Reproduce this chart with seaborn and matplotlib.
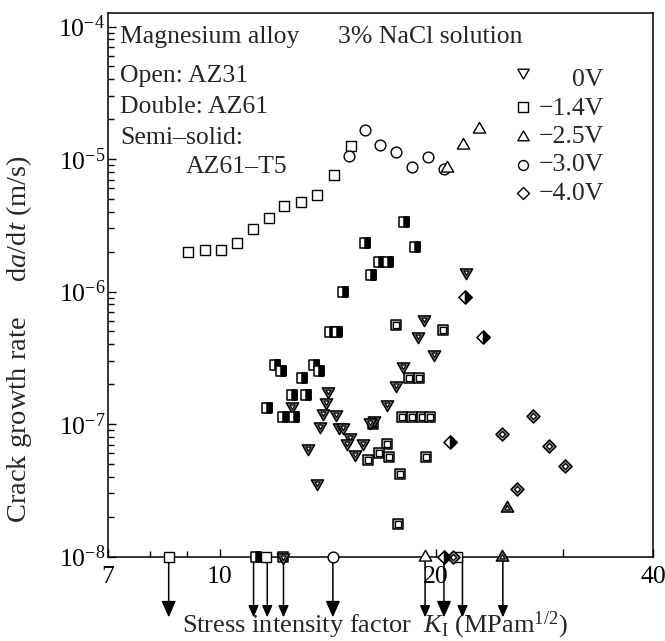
import matplotlib
matplotlib.use("Agg")
import matplotlib.pyplot as plt
from matplotlib.markers import MarkerStyle
from matplotlib.path import Path
from matplotlib.ticker import LogLocator, NullFormatter
import seaborn as sns

# ---- data: K_I (MPa m^1/2) vs da/dt (m/s); 1e-8 = below detection (arrow) ----
# AZ31, open markers
az31_sq_k = [8.5, 9.05, 9.55, 10.05, 10.57, 11.13, 11.71, 12.31, 12.98, 13.66, 14.43, 15.25, 11.6, 21.4]
az31_sq_v = [1e-8, 2.0e-6, 2.06e-6, 2.04e-6, 2.33e-6, 2.96e-6, 3.6e-6, 4.44e-6, 4.71e-6, 5.32e-6,
             7.64e-6, 1.26e-5, 1e-8, 1e-8]
az31_ci_k = [15.12, 15.91, 16.72, 17.6, 18.53, 19.51, 20.51, 14.37]
az31_ci_v = [1.05e-5, 1.67e-5, 1.28e-5, 1.13e-5, 8.65e-6, 1.03e-5, 8.45e-6, 1e-8]
az31_tu_k = [20.7, 21.77, 22.91, 19.3]
az31_tu_v = [8.5e-6, 1.27e-5, 1.68e-5, 1e-8]

# AZ61, double markers
az61_td_k = [22.02, 19.26, 18.85, 19.85, 17.97, 17.59, 17.09, 16.41, 16.16, 14.16, 14.07, 13.92,
             14.53, 12.61, 13.8, 14.64, 14.84, 15.19, 15.04, 15.83, 15.44, 13.26, 13.66, 12.27]
az61_td_v = [1.41e-6, 6.2e-7, 4.61e-7, 3.37e-7, 2.74e-7, 1.97e-7, 1.42e-7, 1.08e-7, 1.04e-7, 1.77e-7,
             1.47e-7, 1.22e-7, 1.2e-7, 1.37e-7, 9.66e-8, 9.55e-8, 9.55e-8, 7.94e-8, 7.22e-8, 7.22e-8,
             5.94e-8, 6.56e-8, 3.6e-8, 1e-8]
az61_sq_k = [12.27, 17.59, 20.42, 18.32, 18.91, 17.93, 18.52, 19.12, 19.63, 16.32, 17.09, 16.64,
             16.06, 17.18, 19.38, 17.8, 17.7]
az61_sq_v = [1e-8, 5.58e-7, 5.12e-7, 2.24e-7, 2.24e-7, 1.12e-7, 1.12e-7, 1.12e-7, 1.12e-7, 9.96e-8,
             7.03e-8, 6.01e-8, 5.35e-8, 5.61e-8, 5.61e-8, 4.2e-8, 1.76e-8]
az61_tu_k = [25.04, 24.7]
az61_tu_v = [2.34e-8, 1e-8]
az61_di_k = [27.27, 24.65, 28.68, 30.18, 25.91, 21.13]
az61_di_v = [1.15e-7, 8.36e-8, 6.82e-8, 4.85e-8, 3.23e-8, 1e-8]

# AZ61-T5, semi-solid markers
t5_sq_k = [18.02, 18.67, 15.93, 16.64, 17.12, 16.25, 14.85, 14.25, 14.55, 11.95, 12.17, 13.02,
           13.51, 13.73, 12.61, 13.2, 11.64, 12.27, 12.68, 11.25]
t5_sq_v = [3.33e-6, 2.18e-6, 2.33e-6, 1.66e-6, 1.66e-6, 1.33e-6, 9.96e-7, 4.98e-7, 4.98e-7, 2.79e-7,
           2.52e-7, 2.24e-7, 2.79e-7, 2.52e-7, 1.67e-7, 1.67e-7, 1.31e-7, 1.12e-7, 1.12e-7, 1e-8]
t5_di_k = [21.96, 23.23, 20.88, 20.5]
t5_di_v = [9.14e-7, 4.56e-7, 7.35e-8, 1e-8]

arrow_k = [8.5, 11.15, 11.65, 12.27, 14.37, 19.3, 20.5, 21.75, 24.75]
big_arrow_k = [8.5, 14.37, 20.5]

legend_labels = ["0V", "\u22121.4V", "\u22122.5V", "\u22123.0V", "\u22124.0V"]
x_ticks = [7, 10, 20, 30, 40]
x_ticklabels = ["7", "10", "20", "", "40"]
y_ticks = [1e-8, 1e-7, 1e-6, 1e-5, 1e-4]
y_ticklabels = [r"$10^{-8}$", r"$10^{-7}$", r"$10^{-6}$", r"$10^{-5}$", r"$10^{-4}$"]

# ---- style ----
sns.set_style("ticks", {"xtick.direction": "in", "ytick.direction": "in"})
plt.rcParams["font.family"] = ["Liberation Serif", "DejaVu Serif"]
plt.rcParams["mathtext.fontset"] = "custom"
plt.rcParams["mathtext.rm"] = "Liberation Serif"
plt.rcParams["mathtext.it"] = "Liberation Serif:italic"
FS = 18.5

TRI_UP = Path([(-1, -0.577), (1, -0.577), (0, 1.155), (0, 0)], closed=True)
TRI_DN = Path([(-1, 0.577), (1, 0.577), (0, -1.155), (0, 0)], closed=True)
SIZES = {"s": 62, "o": 60, "D": 44, "tri": 105}


def size_of(marker):
    return SIZES["tri"] if isinstance(marker, Path) else SIZES[marker]


def open_marks(ax, k, v, marker):
    sns.scatterplot(x=k, y=v, marker=marker, s=size_of(marker), color="white",
                    edgecolor="black", linewidth=1.0, clip_on=False, zorder=5,
                    legend=False, ax=ax)


def double_marks(ax, k, v, marker, inner, fill):
    s = size_of(marker)
    for kk, vv in zip(k, v):
        sns.scatterplot(x=[kk], y=[vv], marker=marker, s=s, color=fill,
                        edgecolor="black", linewidth=1.1, clip_on=False, zorder=5,
                        legend=False, ax=ax)
        sns.scatterplot(x=[kk], y=[vv], marker=marker, s=s * inner ** 2, color="white",
                        edgecolor="black", linewidth=0.9, clip_on=False, zorder=5,
                        legend=False, ax=ax)


def semi_marks(ax, k, v, marker):
    s = size_of(marker)
    for kk, vv in zip(k, v):
        sns.scatterplot(x=[kk], y=[vv], marker=marker, s=s, color="white",
                        edgecolor="black", linewidth=1.1, clip_on=False, zorder=5,
                        legend=False, ax=ax)
        sns.scatterplot(x=[kk], y=[vv], marker=MarkerStyle(marker, fillstyle="right"), s=s,
                        color="black", edgecolor="black", linewidth=1.1, clip_on=False,
                        zorder=5, legend=False, ax=ax)


fig = plt.figure(figsize=(6.65, 6.41), dpi=100)
ax = fig.add_axes([0.1624, 0.1318, 0.8195, 0.8479])
ax.set_xscale("log")
ax.set_yscale("log")

# arrows for points below the detection limit
for kk in arrow_k:
    ms = 20 if kk in big_arrow_k else 14
    ax.annotate("", xy=(kk, -0.112), xycoords=("data", "axes fraction"),
                xytext=(kk, 0), textcoords=("data", "axes fraction"),
                arrowprops=dict(arrowstyle="-|>,head_length=0.5,head_width=0.22",
                                mutation_scale=ms, color="black", lw=1.1,
                                shrinkA=0, shrinkB=0),
                annotation_clip=False, zorder=3)

open_marks(ax, az31_sq_k, az31_sq_v, "s")
open_marks(ax, az31_ci_k, az31_ci_v, "o")
open_marks(ax, az31_tu_k, az31_tu_v, TRI_UP)

double_marks(ax, az61_sq_k, az61_sq_v, "s", 0.5, "#a8a8a8")
double_marks(ax, az61_td_k, az61_td_v, TRI_DN, 0.4, "#7a7a7a")
double_marks(ax, az61_tu_k, az61_tu_v, TRI_UP, 0.4, "#7a7a7a")
double_marks(ax, az61_di_k, az61_di_v, "D", 0.45, "#8a8a8a")

semi_marks(ax, t5_sq_k, t5_sq_v, "s")
semi_marks(ax, t5_di_k, t5_di_v, "D")

# legend drawn by hand (open symbols, labels right aligned)
leg_markers = [TRI_DN, "s", TRI_UP, "o", "D"]
leg_marker_y = [0.892, 0.827, 0.7724, 0.7203, 0.6688]
leg_text_y = [0.8657, 0.8132, 0.7608, 0.7084, 0.6559]
for m, my, ty, lab in zip(leg_markers, leg_marker_y, leg_text_y, legend_labels):
    sns.scatterplot(x=[0.7615], y=[my], marker=m, s=size_of(m) * 0.85, color="white",
                    edgecolor="black", linewidth=1.0, transform=ax.transAxes,
                    clip_on=False, zorder=5, legend=False, ax=ax)
    ax.text(0.910, ty, lab, transform=ax.transAxes, fontsize=FS, ha="right", va="baseline")

ax.text(0.022, 0.9443, "Magnesium alloy", transform=ax.transAxes, fontsize=FS, va="baseline")
ax.text(0.422, 0.9443, "3% NaCl solution", transform=ax.transAxes, fontsize=FS, va="baseline")
ax.text(0.022, 0.8736, "Open: AZ31", transform=ax.transAxes, fontsize=FS, va="baseline")
ax.text(0.022, 0.8166, "Double: AZ61", transform=ax.transAxes, fontsize=FS, va="baseline")
ax.text(0.022, 0.759, "Semi\u2013solid:", transform=ax.transAxes, fontsize=FS, va="baseline")
ax.text(0.143, 0.7062, "AZ61\u2013T5", transform=ax.transAxes, fontsize=FS, va="baseline")

# axes
ax.set_xlim(7, 40)
ax.set_ylim(1e-8, 10 ** -3.898)
ax.set_xticks(x_ticks, labels=x_ticklabels)
ax.set_xticks([8, 9], minor=True)
ax.xaxis.set_minor_formatter(NullFormatter())
ax.set_yticks(y_ticks, labels=y_ticklabels)
ax.yaxis.set_minor_locator(LogLocator(base=10, subs=range(2, 10)))
ax.yaxis.set_minor_formatter(NullFormatter())
ax.tick_params(which="both", direction="in", top=False, right=False, color="black",
               width=1.0, labelsize=FS, labelcolor="black")
ax.tick_params(which="major", length=6)
ax.tick_params(which="minor", length=4.3)
ax.tick_params(axis="x", pad=7)
ax.tick_params(axis="y", pad=2)
for sp in ax.spines.values():
    sp.set_color("black")
    sp.set_linewidth(1.1)
    sp.set_visible(True)

ax.set_xlabel(r"Stress intensity factor  $K_{\mathrm{I}}$ (MPam$^{1/2}$)", fontsize=19)
ax.xaxis.set_label_coords(0.49, -0.097)
ax.set_ylabel(r"Crack growth rate     d$a$/d$t$ (m/s)", fontsize=20.5)
ax.yaxis.set_label_coords(-0.136, 0.4)

fig.savefig("out.png", dpi=100)
